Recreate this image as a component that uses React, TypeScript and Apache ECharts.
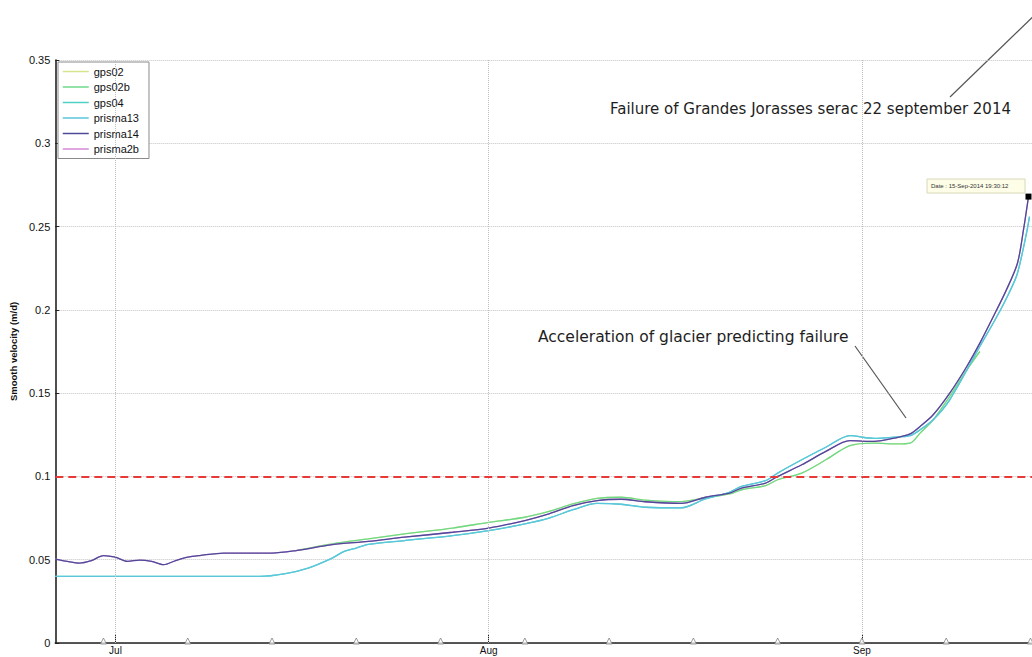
import React, { useEffect, useRef } from "react";
import * as echarts from "echarts";

// ---------- data ----------
const prisma14Dates = [
  "2014-06-26 00:00", "2014-06-27 00:00", "2014-06-28 00:00", "2014-06-29 00:00", "2014-06-30 00:00",
  "2014-07-01 00:00", "2014-07-02 00:00", "2014-07-03 00:00", "2014-07-04 00:00", "2014-07-05 00:00",
  "2014-07-06 00:00", "2014-07-07 00:00", "2014-07-08 00:00", "2014-07-10 00:00", "2014-07-14 00:00",
  "2014-07-16 00:00", "2014-07-19 00:00", "2014-07-22 00:00", "2014-07-25 00:00", "2014-07-29 00:00",
  "2014-08-01 00:00", "2014-08-04 00:00", "2014-08-06 00:00", "2014-08-08 00:00", "2014-08-10 00:00",
  "2014-08-12 00:00", "2014-08-14 00:00", "2014-08-17 00:00", "2014-08-19 00:00", "2014-08-21 00:00",
  "2014-08-22 00:00", "2014-08-24 00:00", "2014-08-25 00:00", "2014-08-27 00:00", "2014-08-29 00:00",
  "2014-08-31 00:00", "2014-09-02 00:00", "2014-09-04 00:00", "2014-09-05 00:00", "2014-09-05 20:00",
  "2014-09-06 22:00", "2014-09-08 07:00", "2014-09-09 17:00", "2014-09-10 19:00", "2014-09-11 22:00",
  "2014-09-13 00:00", "2014-09-13 22:00", "2014-09-14 10:00", "2014-09-14 20:00",
];
const prisma14Values = [
  0.0504, 0.049, 0.048, 0.0495, 0.0525,
  0.0515, 0.049, 0.0498, 0.049, 0.047,
  0.0495, 0.0515, 0.0525, 0.054, 0.054,
  0.0555, 0.059, 0.061, 0.0635, 0.0665,
  0.069, 0.0735, 0.0775, 0.0825, 0.0855,
  0.0863, 0.0848, 0.0838, 0.0875, 0.09,
  0.093, 0.096, 0.1, 0.107, 0.115,
  0.1215, 0.121, 0.1235, 0.1255, 0.13,
  0.137, 0.15, 0.166, 0.18, 0.196,
  0.212, 0.228, 0.248, 0.268,
];

const prisma13Dates = [
  "2014-06-26 00:00", "2014-07-13 00:00", "2014-07-15 00:00", "2014-07-17 00:00", "2014-07-19 00:00",
  "2014-07-20 00:00", "2014-07-21 00:00", "2014-07-22 00:00", "2014-07-25 00:00", "2014-07-29 00:00",
  "2014-08-01 00:00", "2014-08-04 00:00", "2014-08-06 00:00", "2014-08-08 00:00", "2014-08-10 00:00",
  "2014-08-12 00:00", "2014-08-14 00:00", "2014-08-17 00:00", "2014-08-19 00:00", "2014-08-21 00:00",
  "2014-08-22 00:00", "2014-08-24 00:00", "2014-08-25 00:00", "2014-08-27 00:00", "2014-08-29 00:00",
  "2014-08-31 00:00", "2014-09-02 00:00", "2014-09-04 00:00", "2014-09-05 00:00", "2014-09-05 20:00",
  "2014-09-06 22:00", "2014-09-08 07:00", "2014-09-10 19:00", "2014-09-12 05:00", "2014-09-13 05:00",
  "2014-09-13 22:00", "2014-09-14 16:00", "2014-09-14 22:00",
];
const prisma13Values = [
  0.04, 0.04, 0.0415, 0.045, 0.051,
  0.055, 0.057, 0.0592, 0.0615, 0.0645,
  0.0675, 0.0715, 0.075, 0.08, 0.0838,
  0.0833, 0.0815, 0.0812, 0.0865, 0.0905,
  0.094, 0.0975, 0.102, 0.11, 0.1175,
  0.1245, 0.1228, 0.1238, 0.1245, 0.128,
  0.134, 0.146, 0.178, 0.196, 0.21,
  0.222, 0.246, 0.256,
];

const gps02bDates = [
  "2014-07-16 00:00", "2014-07-19 00:00", "2014-07-22 00:00", "2014-07-25 00:00", "2014-07-29 00:00",
  "2014-08-01 00:00", "2014-08-04 00:00", "2014-08-06 00:00", "2014-08-08 00:00", "2014-08-10 00:00",
  "2014-08-12 00:00", "2014-08-14 00:00", "2014-08-17 00:00", "2014-08-19 00:00", "2014-08-21 00:00",
  "2014-08-22 00:00", "2014-08-24 00:00", "2014-08-25 00:00", "2014-08-27 00:00", "2014-08-29 00:00",
  "2014-08-31 00:00", "2014-09-02 00:00", "2014-09-04 00:00", "2014-09-05 00:00", "2014-09-05 20:00",
  "2014-09-06 22:00", "2014-09-08 07:00", "2014-09-09 17:00", "2014-09-10 19:00",
];
const gps02bValues = [
  0.0555, 0.0595, 0.0625, 0.0655, 0.069,
  0.0724, 0.0755, 0.079, 0.0835, 0.0868,
  0.0875, 0.0858, 0.0849, 0.0872, 0.0895,
  0.092, 0.0945, 0.098, 0.102, 0.11,
  0.1185, 0.12, 0.1195, 0.12, 0.126,
  0.134, 0.148, 0.164, 0.175,
];

// gps02 and prisma2b lie under gps02b and prisma14; gps04 under prisma13
const gps02Dates = gps02bDates;
const gps02Values = gps02bValues;
const gps04Dates = prisma13Dates;
const gps04Values = prisma13Values;
const prisma2bDates = prisma14Dates;
const prisma2bValues = prisma14Values;

const seriesNames = ["gps02", "gps02b", "gps04", "prisma13", "prisma14", "prisma2b"];
const seriesColors: Record<string, string> = {
  gps02: "#d6e68c",
  gps02b: "#6fd98a",
  gps04: "#4fd0c4",
  prisma13: "#5cc6dc",
  prisma14: "#4f4a98",
  prisma2b: "#d48ad8",
};

const monthTicks = ["2014-07-01", "2014-08-01", "2014-09-01"];
const weekMarks = [
  "2014-06-30", "2014-07-07", "2014-07-14", "2014-07-21", "2014-07-28", "2014-08-04",
  "2014-08-11", "2014-08-18", "2014-08-25", "2014-09-01", "2014-09-08", "2014-09-15",
];
const xMin = "2014-06-26 00:00";
const xMax = "2014-09-15 03:00";
const yMin = 0;
const yMax = 0.35;
const yInterval = 0.05;
const threshold = 0.1;
const monthNames = ["Jan", "Feb", "Mar", "Apr", "May", "Jun", "Jul", "Aug", "Sep", "Oct", "Nov", "Dec"];

const yAxisTitle = "Smooth velocity (m/d)";
const noteFailure = "Failure of Grandes Jorasses serac 22 september 2014";
const noteAccel = "Acceleration of glacier predicting failure";
const tipText = "Date : 15-Sep-2014 19:30:12";

// ---------- helpers ----------
const ts = (s: string) => {
  const [d, t] = s.split(" ");
  const [Y, M, D] = d.split("-").map(Number);
  const [h, m] = (t || "00:00").split(":").map(Number);
  return new Date(Y, M - 1, D, h, m).getTime();
};
const zip = (dates: string[], vals: number[]) => dates.map((d, i) => [ts(d), vals[i]]);

export default function App() {
  const ref = useRef<HTMLDivElement>(null);

  useEffect(() => {
    if (!ref.current) return;
    const chart = echarts.init(ref.current, undefined, { renderer: "svg" });

    const lineSeries = (name: string, dates: string[], vals: number[], extra: any = {}) => ({
      name,
      type: "line",
      data: zip(dates, vals),
      showSymbol: false,
      symbol: "none",
      smooth: 0.3,
      lineStyle: { color: seriesColors[name], width: 1.3 },
      itemStyle: { color: seriesColors[name] },
      silent: true,
      ...extra,
    });

    const lastIdx = prisma14Dates.length - 1;
    const monthVals = monthTicks.map(ts);

    const option: any = {
      animation: false,
      backgroundColor: "#ffffff",
      textStyle: { fontFamily: "Liberation Sans, Arial, sans-serif" },
      grid: { left: 55, right: 0, top: 60, bottom: 14, containLabel: false },
      legend: {
        data: seriesNames,
        orient: "vertical",
        left: 58,
        top: 62,
        itemWidth: 26,
        itemHeight: 12,
        itemGap: 4.5,
        padding: [4, 10, 4, 4],
        backgroundColor: "#ffffff",
        borderColor: "#8a8a8a",
        borderWidth: 1,
        borderRadius: 0,
        selectedMode: false,
        itemStyle: { opacity: 0 },
        lineStyle: { width: 1.5 },
        textStyle: { fontSize: 11, color: "#111", fontFamily: "Liberation Sans, Arial, sans-serif" },
      },
      xAxis: {
        type: "value",
        min: ts(xMin),
        max: ts(xMax),
        axisLine: { show: true, onZero: false, lineStyle: { color: "#222", width: 1.6 } },
        axisTick: {
          show: true,
          inside: true,
          length: 9,
          customValues: monthVals,
          lineStyle: { color: "#222", width: 1 },
        },
        axisLabel: {
          customValues: monthVals,
          formatter: (v: number) => monthNames[new Date(v).getMonth()],
          fontSize: 10,
          color: "#111",
          margin: 2,
          hideOverlap: false,
          fontFamily: "Liberation Sans, Arial, sans-serif",
        },
        splitLine: { show: false },
      },
      yAxis: {
        type: "value",
        min: yMin,
        max: yMax,
        interval: yInterval,
        name: yAxisTitle,
        nameLocation: "middle",
        nameRotate: 90,
        nameGap: 32,
        nameTextStyle: { fontSize: 9.5, fontWeight: "bold", color: "#111", fontFamily: "Liberation Sans, Arial, sans-serif" },
        axisLine: { show: true, lineStyle: { color: "#222", width: 1.6 } },
        axisTick: { show: true, inside: true, length: 4, lineStyle: { color: "#222" } },
        axisLabel: { fontSize: 11, color: "#111", margin: 5, fontFamily: "Liberation Sans, Arial, sans-serif" },
        splitLine: { show: true, lineStyle: { color: "#c4c4c4", type: "dotted", width: 1 } },
      },
      series: [
        {
          name: "_marks",
          type: "scatter",
          data: weekMarks.map((d) => [ts(d), 0]),
          symbol: "triangle",
          symbolSize: [6, 6],
          symbolOffset: [0, -2],
          clip: false,
          silent: true,
          z: 5,
          itemStyle: { color: "#ffffff", borderColor: "#777", borderWidth: 0.9 },
          markLine: {
            silent: true,
            symbol: "none",
            label: { show: false },
            animation: false,
            data: [
              ...monthVals.map((v) => ({
                xAxis: v,
                lineStyle: { color: "#bdbdbd", type: "dotted", width: 1 },
              })),
              {
                yAxis: threshold,
                lineStyle: { color: "#e83838", type: [8, 5], width: 1.8 },
              },
            ],
          },
        },
        lineSeries("gps02", gps02Dates, gps02Values),
        lineSeries("gps02b", gps02bDates, gps02bValues),
        lineSeries("gps04", gps04Dates, gps04Values),
        lineSeries("prisma2b", prisma2bDates, prisma2bValues),
        lineSeries("prisma13", prisma13Dates, prisma13Values),
        lineSeries("prisma14", prisma14Dates, prisma14Values, {
          markPoint: {
            silent: true,
            symbol: "rect",
            symbolSize: 6,
            label: { show: false },
            itemStyle: { color: "#000" },
            data: [{ coord: [ts(prisma14Dates[lastIdx]), prisma14Values[lastIdx]] }],
          },
        }),
      ],
      graphic: [
        {
          type: "text",
          left: 610,
          top: 101,
          style: { text: noteFailure, fontSize: 15, fontFamily: "DejaVu Sans", fill: "#1e1e1e" },
          silent: true,
        },
        {
          type: "line",
          shape: { x1: 950, y1: 97, x2: 1045, y2: 5 },
          style: { stroke: "#555", lineWidth: 1.2 },
          silent: true,
        },
        {
          type: "text",
          left: 538,
          top: 329,
          style: { text: noteAccel, fontSize: 15.5, fontFamily: "DejaVu Sans", fill: "#1e1e1e" },
          silent: true,
        },
        {
          type: "line",
          shape: { x1: 855, y1: 346, x2: 906, y2: 418 },
          style: { stroke: "#555", lineWidth: 1.2 },
          silent: true,
        },
        {
          type: "rect",
          shape: { x: 927, y: 179, width: 98, height: 14 },
          style: { fill: "#fdfde8", stroke: "#d8d8b8", lineWidth: 1 },
          silent: true,
        },
        {
          type: "text",
          x: 931,
          y: 186,
          style: { text: tipText, fontSize: 6, fill: "#333", verticalAlign: "middle", fontFamily: "Liberation Sans, Arial, sans-serif" },
          silent: true,
        },
      ],
    };

    chart.setOption(option);
    return () => chart.dispose();
  }, []);

  return (
    <div
      ref={ref}
      style={{ position: "absolute", left: 0, top: 0, width: 1032, height: 657, background: "#fff" }}
    />
  );
}
